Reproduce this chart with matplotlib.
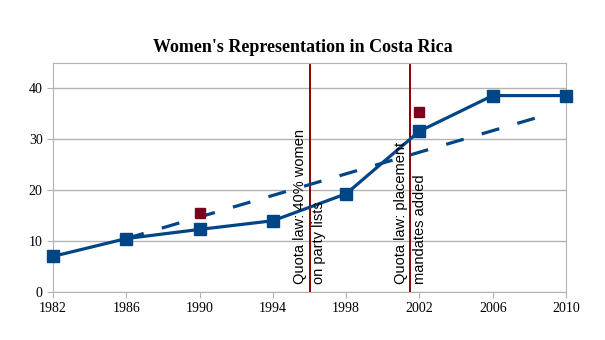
import numpy as np
import matplotlib.pyplot as plt

years = [1982, 1986, 1990, 1994, 1998, 2002, 2006, 2010]
women = [7.0, 10.5, 12.3, 14.0, 19.3, 31.6, 38.6, 38.6]

# red markers (no line)
red_years = [1990, 2002]
red_vals = [15.5, 35.3]

# dashed trend
trend_years = [1986, 2009.2]
trend_vals = [10.5, 35.1]

law_years = [1996, 2001.5]
law_text = ['Quota law: 40% women\non party lists', 'Quota law: placement\nmandates added']

blue = '#004586'
dred = '#7E0021'

fig = plt.figure(figsize=(6.05, 3.4), dpi=100)
ax = fig.add_axes([53/605, 1-292/340, (566-53)/605, (292-63)/340])

ax.plot(trend_years, trend_vals, color=blue, lw=2.3, dashes=(5.7, 5.9), zorder=3)
ax.plot(years, women, color=blue, lw=2.3, marker='s', ms=8.5, clip_on=False, zorder=4)
ax.plot(red_years, red_vals, ls='none', marker='s', ms=7.5, color=dred, zorder=4)

for x, t in zip(law_years, law_text):
    ax.axvline(x, color='#8B0000', lw=1.4, zorder=2)
    ax.text(x, 1.6, t, rotation=90, ha='center', va='bottom',
            multialignment='left', fontsize=10.5, family='Liberation Sans',
            linespacing=1.45, zorder=5)

ax.set_xlim(1982, 2010)
ax.set_ylim(0, 45)
ax.set_xticks(years)
ax.set_yticks([0, 10, 20, 30, 40])
ax.yaxis.grid(True, color='#b3b3b3', lw=1)
ax.set_axisbelow(True)
for s in ax.spines.values():
    s.set_color('#b3b3b3')
ax.tick_params(colors='#b3b3b3', length=4, labelcolor='black', labelsize=10)
for lab in ax.get_xticklabels() + ax.get_yticklabels():
    lab.set_family('Liberation Serif')

fig.text(0.5, 1-47/340, "Women's Representation in Costa Rica", ha='center', va='center',
         fontsize=13, fontweight='bold', family='Liberation Serif')

plt.savefig('out.png', dpi=100)
